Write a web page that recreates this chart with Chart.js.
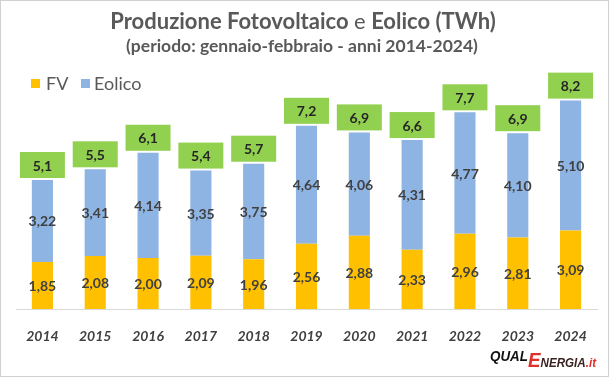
<!DOCTYPE html>
<html>
<head>
<meta charset="utf-8">
<script src="https://cdn.jsdelivr.net/npm/chart.js@4/dist/chart.umd.min.js"></script>
<style>
  body { margin: 0; background: #fff; }
  #wrap { width: 609px; height: 377px; }
</style>
</head>
<body>
<div id="wrap"><canvas id="chartFvEolico" width="609" height="377"></canvas></div>
<script>
// dati: produzione gennaio-febbraio (TWh)
var years = ['2014', '2015', '2016', '2017', '2018', '2019', '2020', '2021', '2022', '2023', '2024'];
var fvValues = [1.85, 2.08, 2.00, 2.09, 1.96, 2.56, 2.88, 2.33, 2.96, 2.81, 3.09];
var eolicoValues = [3.22, 3.41, 4.14, 3.35, 3.75, 4.64, 4.06, 4.31, 4.77, 4.10, 5.10];
var totalValues = [5.1, 5.5, 6.1, 5.4, 5.7, 7.2, 6.9, 6.6, 7.7, 6.9, 8.2];
var seriesLabels = ['FV', 'Eolico'];
var titleParts = [['Produzione Fotovoltaico ', true], ['e ', false], ['Eolico (TWh)', true]];
var subTitle = '(periodo: gennaio-febbraio - anni 2014-2024)';

var FONT = "Lato, 'Open Sans', sans-serif";
var LOGO_FONT = "'Liberation Sans', Arial, sans-serif";
var colFV = '#FFC000';
var colEolico = '#8EB4E3';
var colTot = '#92D050';

function fmt(v, d) {
    return v.toFixed(d).replace('.', ',');
}

// logo QualEnergia.it, schiacciato in orizzontale
function drawLogo(ctx) {
    var parts = [
        ['QUAL', 'italic bold 15px ' + LOGO_FONT, '#111111', 0],
        ['E', 'italic bold 21px ' + LOGO_FONT, '#e0302c', 6],
        ['NERGIA', 'italic bold 13px ' + LOGO_FONT, '#3a2222', 6],
        ['.it', 'italic bold 13px ' + LOGO_FONT, '#e0302c', 6]
    ];
    var w = 0;
    parts.forEach(function(p) {
        ctx.font = p[1];
        w += ctx.measureText(p[0]).width;
    });
    var sx = 106 / w;
    ctx.save();
    ctx.translate(490, 361);
    ctx.scale(sx, 1);
    var x = 0;
    parts.forEach(function(p) {
        ctx.font = p[1];
        ctx.fillStyle = p[2];
        ctx.fillText(p[0], x, p[3]);
        x += ctx.measureText(p[0]).width;
    });
    ctx.restore();
}

// titolo, legenda, bordo e logo
var decorPlugin = {
    id: 'decor',
    beforeDraw: function(chart) {
        var ctx = chart.ctx;
        ctx.save();
        ctx.fillStyle = '#fff';
        ctx.fillRect(0, 0, chart.width, chart.height);
        ctx.strokeStyle = '#d0d0d0';
        ctx.lineWidth = 1;
        ctx.strokeRect(0.5, 0.5, chart.width - 1, chart.height - 1);
        ctx.restore();
    },
    afterDraw: function(chart) {
        var ctx = chart.ctx;
        ctx.save();
        ctx.textBaseline = 'alphabetic';
        ctx.fillStyle = '#595959';

        // titolo con "e" non in grassetto
        var total = 0;
        titleParts.forEach(function(p) {
            ctx.font = (p[1] ? 'bold ' : '') + '22px ' + FONT;
            total += ctx.measureText(p[0]).width;
        });
        var x = 303 - total / 2;
        titleParts.forEach(function(p) {
            ctx.font = (p[1] ? 'bold ' : '') + '22px ' + FONT;
            ctx.textAlign = 'left';
            ctx.fillText(p[0], x, 29);
            x += ctx.measureText(p[0]).width;
        });
        ctx.font = 'bold 17.5px ' + FONT;
        ctx.textAlign = 'center';
        ctx.fillText(subTitle, 302, 52);

        // legenda
        ctx.font = '18px ' + FONT;
        ctx.textAlign = 'left';
        ctx.fillStyle = colFV;
        ctx.fillRect(31, 79, 9, 9);
        ctx.fillStyle = '#595959';
        ctx.fillText(seriesLabels[0], 46, 90);
        ctx.fillStyle = colEolico;
        ctx.fillRect(81, 79, 9, 9);
        ctx.fillStyle = '#595959';
        ctx.fillText(seriesLabels[1], 94, 90);

        drawLogo(ctx);
        ctx.restore();
    }
};

// etichette valori e totali nei riquadri verdi
var labelPlugin = {
    id: 'valueLabels',
    afterDatasetsDraw: function(chart) {
        var ctx = chart.ctx;
        ctx.save();
        ctx.textAlign = 'center';
        ctx.textBaseline = 'middle';
        ctx.font = 'bold 14px ' + FONT;
        ctx.fillStyle = '#404040';
        chart.data.datasets.forEach(function(ds, i) {
            var meta = chart.getDatasetMeta(i);
            meta.data.forEach(function(bar, j) {
                var mid = (bar.y + bar.base) / 2;
                ctx.fillText(fmt(ds.data[j], 2), bar.x, mid + 1);
            });
        });
        var top = chart.getDatasetMeta(1);
        top.data.forEach(function(bar, j) {
            var bw = 45, bh = 26;
            var by = bar.y - 2 - bh;
            ctx.fillStyle = colTot;
            ctx.fillRect(bar.x - bw / 2, by, bw, bh);
            ctx.fillStyle = '#262626';
            ctx.fillText(fmt(totalValues[j], 1), bar.x, by + bh / 2 + 1);
        });
        ctx.restore();
    }
};

var chartFvEolico = new Chart(document.getElementById('chartFvEolico'), {
    type: 'bar',
    data: {
        labels: years,
        datasets: [{
            label: seriesLabels[0],
            data: fvValues,
            backgroundColor: colFV,
            barPercentage: 0.8,
            categoryPercentage: 0.5
        }, {
            label: seriesLabels[1],
            data: eolicoValues,
            backgroundColor: colEolico,
            barPercentage: 0.8,
            categoryPercentage: 0.5
        }]
    },
    options: {
        responsive: false,
        animation: false,
        layout: { padding: { top: 80, left: 16, right: 12, bottom: 0 } },
        plugins: {
            legend: { display: false },
            title: { display: false },
            tooltip: { enabled: false }
        },
        scales: {
            x: {
                stacked: true,
                grid: { display: false },
                border: { display: true, color: '#d9d9d9', width: 1 },
                ticks: {
                    color: '#404040',
                    padding: 11,
                    font: { family: FONT, size: 14, style: 'italic', weight: 'bold' }
                },
                afterFit: function(scale) { scale.height = 68; }
            },
            y: {
                stacked: true,
                display: false,
                min: 0,
                max: 9
            }
        }
    },
    plugins: [decorPlugin, labelPlugin]
});
</script>
</body>
</html>
